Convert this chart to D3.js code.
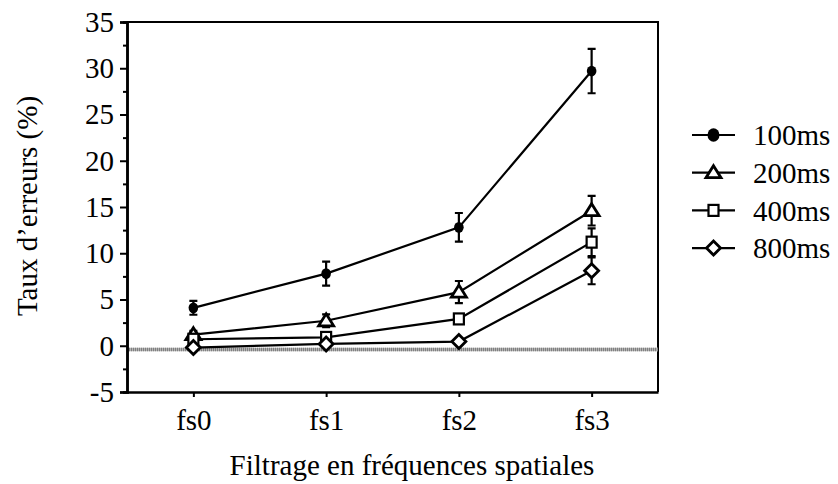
<!DOCTYPE html>
<html>
<head>
<meta charset="utf-8">
<script src="https://cdn.jsdelivr.net/npm/d3@7"></script>
<style>
  body { margin: 0; background: #fff; }
  svg { display: block; }
  text { font-family: "Liberation Serif", "Times New Roman", serif; fill: #000; }
</style>
</head>
<body>
<svg id="chart" width="838" height="484"></svg>
<script>
// conditions on the x axis
const categories = ["fs0", "fs1", "fs2", "fs3"];
// exposure durations
const seriesNames = ["100ms", "200ms", "400ms", "800ms"];
const seriesShapes = ["circle", "triangle", "square", "diamond"];
// mean error rate (%) per series
const values100 = [4.1, 7.8, 12.8, 29.7];
const values200 = [1.2, 2.7, 5.8, 14.6];
const values400 = [0.7, 0.9, 2.9, 11.2];
const values800 = [-0.2, 0.2, 0.45, 8.1];
// error bar half-lengths
const errors100 = [0.75, 1.3, 1.55, 2.4];
const errors200 = [0.4, 0.7, 1.2, 1.6];
const errors400 = [0.3, 0.3, 0.4, 1.5];
const errors800 = [0.2, 0.2, 0.2, 1.45];
const yTicks = [-5, 0, 5, 10, 15, 20, 25, 30, 35];
const yMinorTicks = [-2.5, 2.5, 7.5, 12.5, 17.5, 22.5, 27.5, 32.5];
const baselineValue = -0.4;

const series = seriesNames.map((name, i) => ({
    name: name,
    shape: seriesShapes[i],
    values: [values100, values200, values400, values800][i],
    errors: [errors100, errors200, errors400, errors800][i]
}));

const svg = d3.select("#chart");
const margin = { top: 22, right: 180, bottom: 92, left: 127 };
const width = 838 - margin.left - margin.right;
const height = 484 - margin.top - margin.bottom;

const x = d3.scalePoint().domain(categories).range([0, width]).padding(0.5);
const y = d3.scaleLinear().domain([-5, 35]).range([height, 0]);

const g = svg.append("g")
    .attr("transform", `translate(${margin.left},${margin.top})`);

// frame (top and right)
g.append("path")
    .attr("d", `M0,0H${width}V${height}`)
    .attr("fill", "none")
    .attr("stroke", "#000")
    .attr("stroke-width", 2);

// grey dotted reference band just below zero
g.append("line")
    .attr("x1", 0).attr("x2", width)
    .attr("y1", y(baselineValue)).attr("y2", y(baselineValue))
    .attr("stroke", "#b4b4b4")
    .attr("stroke-width", 3.5);
g.append("line")
    .attr("x1", 0).attr("x2", width)
    .attr("y1", y(baselineValue)).attr("y2", y(baselineValue))
    .attr("stroke", "#808080")
    .attr("stroke-width", 3.5)
    .attr("stroke-dasharray", "1,1");

// y axis
const yAxis = g.append("g")
    .call(d3.axisLeft(y).tickValues(yTicks).tickSize(7).tickPadding(6).tickFormat(d3.format("d")));
g.append("g")
    .call(d3.axisLeft(y).tickValues(yMinorTicks).tickSize(4).tickFormat(""));
g.selectAll(".domain").attr("stroke-width", 2.5);
g.selectAll(".tick line").attr("stroke-width", 2);
yAxis.selectAll("text")
    .attr("font-family", "Liberation Serif")
    .style("font-size", "29px")
    .text(d => d < 0 ? "-" + Math.abs(d) : d);

// x axis
const xAxis = g.append("g")
    .attr("transform", `translate(0,${height})`)
    .call(d3.axisBottom(x).tickSize(5).tickPadding(12).tickSizeOuter(0));
xAxis.select(".domain").attr("stroke-width", 2.5);
xAxis.selectAll(".tick line").attr("stroke-width", 2);
xAxis.selectAll("text")
    .attr("font-family", "Liberation Serif")
    .style("font-size", "29px");

// axis titles
svg.append("text")
    .attr("transform", "translate(37,206) rotate(-90)")
    .attr("text-anchor", "middle")
    .style("font-size", "29px")
    .text("Taux d’erreurs (%)");

svg.append("text")
    .attr("x", 412)
    .attr("y", 475)
    .attr("text-anchor", "middle")
    .style("font-size", "29px")
    .text("Filtrage en fréquences spatiales");

function drawMarker(sel, shape, cx, cy, scale) {
    const s = scale || 1;
    if (shape === "circle") {
        sel.append("ellipse")
            .attr("cx", cx).attr("cy", cy)
            .attr("rx", 4.8 * s).attr("ry", 5.4 * s)
            .attr("fill", "#000");
    } else if (shape === "triangle") {
        sel.append("path")
            .attr("d", `M${cx},${cy - 7 * s}L${cx + 7.5 * s},${cy + 5 * s}L${cx - 7.5 * s},${cy + 5 * s}Z`)
            .attr("fill", "#fff").attr("stroke", "#000").attr("stroke-width", 2.8);
    } else if (shape === "square") {
        sel.append("rect")
            .attr("x", cx - 5 * s).attr("y", cy - 5.5 * s)
            .attr("width", 10 * s).attr("height", 11 * s)
            .attr("fill", "#fff").attr("stroke", "#000").attr("stroke-width", 2.2);
    } else {
        sel.append("path")
            .attr("d", `M${cx},${cy - 7 * s}L${cx + 7 * s},${cy}L${cx},${cy + 7 * s}L${cx - 7 * s},${cy}Z`)
            .attr("fill", "#fff").attr("stroke", "#000").attr("stroke-width", 2.8);
    }
}

const line = d3.line()
    .x((d, i) => x(categories[i]))
    .y(d => y(d));

// lines first, then error bars, then markers
series.forEach(s => {
    g.append("path")
        .datum(s.values)
        .attr("fill", "none")
        .attr("stroke", "#000")
        .attr("stroke-width", 2.2)
        .attr("d", line);
});

series.forEach(s => {
    s.values.forEach((v, i) => {
        const cx = x(categories[i]);
        const top = y(v + s.errors[i]);
        const bot = y(v - s.errors[i]);
        g.append("path")
            .attr("d", `M${cx},${top}V${bot}M${cx - 4},${top}H${cx + 4}M${cx - 4},${bot}H${cx + 4}`)
            .attr("fill", "none")
            .attr("stroke", "#000")
            .attr("stroke-width", 2.2);
    });
});

series.forEach(s => {
    s.values.forEach((v, i) => {
        drawMarker(g, s.shape, x(categories[i]), y(v));
    });
});

// legend
const legend = svg.append("g").attr("transform", "translate(692,135)");
series.forEach((s, i) => {
    const row = legend.append("g").attr("transform", `translate(0,${i * 37.7})`);
    row.append("line")
        .attr("x1", 0).attr("x2", 43)
        .attr("stroke", "#000").attr("stroke-width", 2.2);
    drawMarker(row, s.shape, 21.5, 0, s.shape === "circle" ? 1.25 : 1);
    row.append("text")
        .attr("x", 61)
        .attr("dy", "0.35em")
        .style("font-size", "29px")
        .text(s.name);
});
</script>
</body>
</html>
